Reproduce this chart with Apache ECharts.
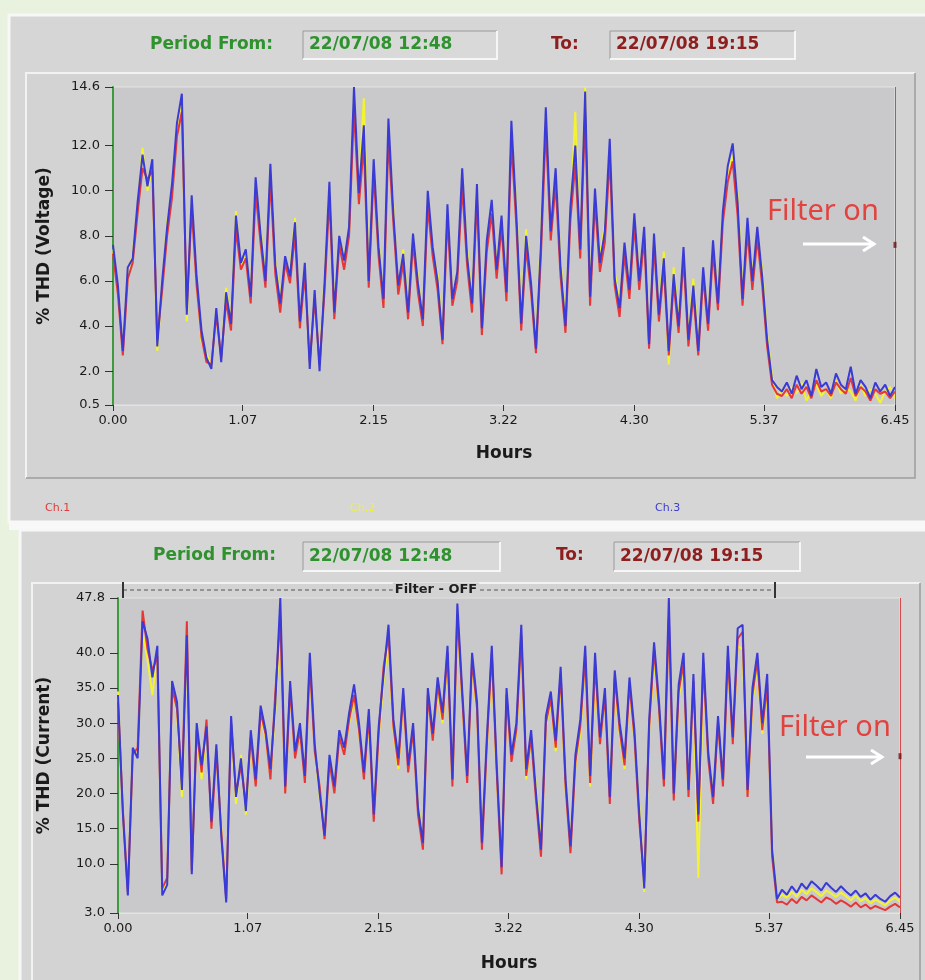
<!DOCTYPE html>
<html>
<head>
<meta charset="utf-8">
<title>THD Voltage / Current</title>
<script src="https://cdn.jsdelivr.net/npm/echarts@6/dist/echarts.min.js"></script>
<style>
    html, body { margin: 0; padding: 0; background: #e9f1df; }
    #chart { width: 925px; height: 980px; }
</style>
</head>
<body>
<div id="chart"></div>
<script>
// tick labels
const HOUR_TICKS = [0, 1.07, 2.15, 3.22, 4.30, 5.37, 6.45];
const VOLT_TICKS = [0.5, 2, 4, 6, 8, 10, 12, 14.6];
const CURR_TICKS = [3, 10, 15, 20, 25, 30, 35, 40, 47.8];
const HOURS_MAX = 6.45;
const SAMPLES = 160;

const PERIOD_FROM = '22/07/08 12:48';
const PERIOD_TO = '22/07/08 19:15';

// % THD (Voltage), one value per sample
const voltCh3 = [
    7.6, 5.8, 2.9, 6.6, 7.0, 9.5, 11.6, 10.2, 11.4, 3.1,
    6.0, 8.4, 10.3, 13.0, 14.3, 4.5, 9.8, 6.2, 3.8, 2.6,
    2.1, 4.8, 2.4, 5.5, 4.1, 8.9, 6.8, 7.4, 5.3, 10.6,
    8.1, 6.0, 11.2, 6.7, 5.0, 7.1, 6.2, 8.6, 4.2, 6.8,
    2.1, 5.6, 2.0, 5.9, 10.4, 4.6, 8.0, 6.9, 8.4, 14.6,
    9.9, 12.9, 6.0, 11.4, 7.5, 5.2, 13.2, 9.0, 5.8, 7.2,
    4.6, 8.1, 5.9, 4.3, 10.0, 7.5, 6.0, 3.4, 9.4, 5.2,
    6.4, 11.0, 7.1, 5.0, 10.3, 3.9, 7.8, 9.6, 6.5, 8.9,
    5.5, 13.1, 9.0, 4.1, 8.0, 5.9, 3.0, 7.6, 13.7, 8.2,
    11.0, 6.6, 4.0, 9.3, 12.0, 7.4, 14.4, 5.3, 10.1, 6.8,
    8.2, 12.3, 6.1, 4.8, 7.7, 5.6, 9.0, 6.0, 8.4, 3.2,
    8.1, 4.5, 7.0, 2.9, 6.3, 4.0, 7.5, 3.4, 5.8, 2.9,
    6.6, 4.1, 7.8, 5.0, 9.1, 11.1, 12.1, 9.5, 5.2, 8.8,
    6.0, 8.4, 6.2, 3.4, 1.6,
    1.3, 1.1, 1.5, 1.0, 1.8, 1.2, 1.6, 0.9, 2.1, 1.3,
    1.5, 1.0, 1.9, 1.4, 1.2, 2.2, 1.0, 1.6, 1.3, 0.8,
    1.5, 1.1, 1.4, 0.9, 1.3
];
const voltCh1 = [
    7.2, 5.4, 2.7, 6.1, 6.8, 9.0, 11.0, 10.5, 10.9, 3.4,
    5.6, 8.0, 9.7, 12.4, 13.5, 4.8, 9.2, 5.8, 3.5, 2.4,
    2.3, 4.5, 2.6, 5.1, 3.8, 8.3, 6.5, 7.0, 5.0, 9.9,
    7.7, 5.7, 10.5, 6.3, 4.6, 6.8, 5.9, 8.1, 3.9, 6.3,
    2.4, 5.2, 2.3, 5.5, 9.7, 4.3, 7.6, 6.5, 8.0, 13.6,
    9.4, 12.0, 5.7, 10.8, 7.1, 4.8, 12.3, 8.6, 5.4, 6.8,
    4.3, 7.7, 5.5, 4.0, 9.3, 7.1, 5.6, 3.2, 8.8, 4.9,
    6.0, 10.2, 6.7, 4.6, 9.7, 3.6, 7.3, 9.0, 6.1, 8.4,
    5.1, 12.2, 8.5, 3.8, 7.5, 5.5, 2.8, 7.1, 12.8, 7.8,
    10.3, 6.2, 3.7, 8.7, 11.2, 7.0, 13.4, 4.9, 9.5, 6.4,
    7.7, 11.5, 5.8, 4.4, 7.2, 5.2, 8.5, 5.6, 7.9, 3.0,
    7.6, 4.2, 6.6, 2.7, 5.9, 3.7, 7.0, 3.1, 5.4, 2.7,
    6.2, 3.8, 7.3, 4.7, 8.6, 10.4, 11.3, 8.9, 4.9, 8.2,
    5.6, 7.9, 5.8, 3.1, 1.4,
    1.0, 0.9, 1.2, 0.8, 1.4, 1.0, 1.3, 0.8, 1.6, 1.1,
    1.2, 0.9, 1.5, 1.2, 1.0, 1.7, 0.9, 1.3, 1.1, 0.7,
    1.2, 1.0, 1.1, 0.8, 1.1
];
const voltCh2 = [
    7.4, 5.5, 3.0, 6.3, 7.2, 9.3, 11.9, 10.0, 11.0, 2.9,
    5.8, 8.6, 10.0, 12.8, 13.9, 4.2, 9.5, 6.0, 3.3, 2.8,
    2.2, 4.6, 2.5, 5.7, 4.3, 9.1, 6.6, 7.2, 5.6, 10.2,
    8.3, 6.2, 10.9, 6.9, 5.3, 6.9, 6.4, 8.8, 4.0, 6.6,
    2.3, 5.4, 2.2, 6.1, 10.1, 4.9, 7.8, 7.1, 8.2, 14.2,
    10.2, 14.1, 6.3, 11.0, 7.8, 5.0, 12.6, 9.3, 5.5, 7.4,
    4.8, 7.9, 6.2, 4.1, 9.7, 7.3, 6.3, 3.6, 9.0, 5.4,
    6.2, 10.7, 7.4, 5.2, 10.0, 4.2, 7.5, 9.3, 6.8, 8.6,
    5.8, 12.8, 9.3, 4.4, 8.3, 5.6, 3.3, 7.9, 13.3, 8.5,
    10.7, 6.9, 4.3, 9.0, 13.5, 7.2, 14.6, 5.6, 9.8, 7.1,
    8.5, 11.9, 6.4, 5.1, 7.4, 5.9, 8.7, 6.3, 8.1, 3.5,
    7.8, 4.8, 7.3, 2.3, 6.6, 4.3, 7.2, 3.7, 6.1, 3.2,
    6.3, 4.4, 7.5, 5.3, 8.8, 10.8, 11.6, 9.8, 5.5, 8.5,
    6.3, 8.1, 6.5, 3.6, 1.8,
    0.8, 1.2, 0.9, 1.3, 1.0, 1.5, 0.7, 1.1, 1.4, 0.9,
    1.2, 0.8, 1.6, 1.0, 1.3, 1.1, 0.7, 1.4, 0.9, 1.2,
    1.0, 0.6, 1.1, 1.3, 0.8
];

// % THD (Current)
const currCh3 = [
    34.0, 17.0, 5.5, 26.5, 25.0, 44.5, 42.0, 36.5, 41.0, 5.5,
    7.0, 36.0, 33.0, 20.5, 42.5, 8.5, 30.0, 24.0, 29.5, 16.0,
    27.0, 14.0, 4.5, 31.0, 19.5, 25.0, 17.5, 29.0, 22.0, 32.5,
    29.0, 23.5, 33.0, 47.8, 21.0, 36.0, 26.0, 30.0, 22.5, 40.0,
    27.0, 20.0, 14.0, 25.5, 21.0, 29.0, 26.5, 31.5, 35.5, 30.0,
    23.0, 32.0, 17.0, 29.5, 37.0, 44.0, 30.5, 25.0, 35.0, 24.0,
    30.0, 18.0, 13.0, 35.0, 28.5, 36.5, 31.5, 41.0, 22.0, 47.0,
    34.5, 22.5, 40.0, 33.0, 13.0, 28.0, 41.0, 24.0, 9.5, 35.0,
    25.5, 30.0, 44.0, 23.5, 29.0, 20.0, 12.0, 31.0, 34.5, 27.5,
    38.0, 22.0, 12.5, 25.5, 30.5, 41.0, 22.5, 40.0, 28.0, 35.0,
    19.5, 37.5, 30.0, 25.0, 36.5, 29.0, 17.0, 6.5, 30.5, 41.5,
    33.0, 22.0, 47.8, 20.0, 35.5, 40.0, 20.5, 37.0, 17.0, 40.0,
    26.0, 19.5, 31.0, 22.0, 41.0, 28.0, 43.5, 44.0, 20.5, 35.0,
    40.0, 30.0, 37.0, 12.0, 5.0,
    6.3, 5.6, 6.8, 5.9, 7.2, 6.4, 7.5, 6.9, 6.2, 7.3,
    6.6, 6.0, 6.8, 6.1, 5.5, 6.2, 5.3, 5.8, 4.9, 5.6,
    5.0, 4.6, 5.4, 5.9, 5.2
];
const currCh1 = [
    33.0, 17.5, 6.0, 25.5, 26.5, 46.0, 40.5, 37.5, 39.5, 6.5,
    8.0, 35.0, 32.0, 21.5, 44.5, 9.0, 29.0, 23.0, 30.5, 15.0,
    26.0, 14.5, 5.0, 30.0, 20.0, 24.0, 18.5, 28.0, 21.0, 31.5,
    28.5, 22.0, 34.5, 45.0, 20.0, 35.0, 25.0, 29.0, 21.5, 38.5,
    26.0, 21.0, 13.5, 24.5, 20.0, 28.0, 25.5, 30.5, 34.0, 29.0,
    22.0, 31.0, 16.0, 28.5, 38.0, 42.5, 29.5, 24.0, 34.0, 23.0,
    29.0, 17.0, 12.0, 34.0, 27.5, 35.5, 30.5, 40.0, 21.0, 45.5,
    33.5, 21.5, 39.0, 32.0, 12.0, 27.0, 40.0, 23.0, 8.5, 34.0,
    24.5, 29.0, 42.5, 22.5, 28.0, 19.0, 11.0, 30.0, 33.5, 26.5,
    37.0, 21.0, 11.5, 24.5, 29.5, 39.5, 21.5, 38.5, 27.0, 34.0,
    18.5, 36.5, 29.0, 24.0, 35.5, 28.0, 16.0, 7.5, 29.5, 40.5,
    32.0, 21.0, 45.0, 19.0, 34.5, 38.5, 19.5, 36.0, 16.0, 38.5,
    25.0, 18.5, 30.0, 21.0, 39.5, 27.0, 42.0, 43.0, 19.5, 34.0,
    39.0, 29.0, 35.5, 11.0, 4.5,
    4.6, 4.2, 5.0, 4.4, 5.3, 4.8, 5.5, 5.0, 4.5, 5.2,
    4.9, 4.3, 4.8, 4.4, 3.9, 4.5, 3.8, 4.2, 3.6, 4.0,
    3.7, 3.4, 3.9, 4.3, 3.8
];
const currCh2 = [
    34.5, 16.5, 6.5, 26.0, 25.5, 43.0, 39.0, 34.0, 40.0, 6.0,
    7.5, 35.5, 31.5, 19.5, 41.5, 9.5, 28.5, 22.0, 29.0, 17.0,
    25.5, 15.0, 5.5, 29.5, 18.5, 25.5, 17.0, 27.5, 21.5, 31.0,
    28.0, 22.5, 32.0, 44.0, 20.5, 34.5, 25.5, 28.5, 23.0, 37.5,
    26.5, 19.5, 14.5, 24.0, 21.5, 27.5, 26.0, 30.0, 33.5, 28.5,
    22.5, 30.0, 17.5, 28.0, 36.0, 41.5, 29.0, 23.5, 33.5, 24.5,
    28.5, 18.5, 13.5, 33.5, 28.0, 34.5, 30.0, 39.0, 21.5, 44.5,
    33.0, 23.0, 38.0, 31.5, 14.0, 26.5, 39.0, 22.5, 10.5, 33.5,
    25.0, 28.5, 41.5, 22.0, 27.5, 21.0, 13.0, 29.5, 33.0, 26.0,
    36.0, 20.5, 13.5, 24.0, 28.5, 39.0, 21.0, 37.0, 27.5, 33.5,
    20.0, 35.5, 28.5, 23.5, 35.0, 27.5, 18.0, 6.0, 29.0, 39.0,
    31.5, 22.5, 44.0, 20.5, 33.5, 38.0, 20.0, 35.0, 8.0, 37.5,
    25.5, 20.0, 29.5, 22.5, 38.5, 27.5, 41.0, 40.5, 20.0, 33.0,
    38.0, 28.5, 34.5, 12.5, 5.0,
    5.6, 5.2, 6.0, 5.3, 6.3, 5.7, 6.5, 6.0, 5.4, 6.2,
    5.8, 5.3, 5.9, 5.4, 4.8, 5.5, 4.7, 5.1, 4.4, 4.9,
    4.5, 4.1, 4.8, 5.2, 4.6
];

// marker where the filter switches on (hours, value)
const filterMarkVolt = [6.45, 7.6];
const filterMarkCurr = [6.45, 25.3];

const RED = '#e63636';
const YELLOW = '#f3f32e';
const BLUE = '#3a3ad6';
const GREEN_TXT = '#2f922f';
const RED_TXT = '#8e1f1f';
const FONT = '"DejaVu Sans", "Liberation Sans", Arial, sans-serif';

var chart = echarts.init(document.getElementById('chart'), null, {renderer: 'canvas'});

function toPairs(values) {
    var step = HOURS_MAX / (SAMPLES - 1);
    return values.map(function (v, i) {
        return [i * step, v];
    });
}

function xAxisFor(gridIndex, nameGap, labelMargin) {
    return {
        type: 'value',
        gridIndex: gridIndex,
        min: 0,
        max: HOURS_MAX,
        name: 'Hours',
        nameLocation: 'middle',
        nameGap: nameGap,
        nameTextStyle: {fontFamily: FONT, fontWeight: 'bold', fontSize: 17, color: '#1a1a1a'},
        axisLine: {show: true, onZero: false, lineStyle: {color: '#e2e2e2', width: 1}},
        axisTick: {show: true, customValues: HOUR_TICKS, length: 6, lineStyle: {color: '#333'}},
        axisLabel: {
            customValues: HOUR_TICKS,
            margin: labelMargin,
            fontFamily: FONT,
            fontSize: 13,
            color: '#1a1a1a',
            formatter: function (v) { return v.toFixed(2); }
        },
        splitLine: {show: false}
    };
}

function yAxisFor(gridIndex, name, ticks, nameGap) {
    return {
        type: 'value',
        gridIndex: gridIndex,
        min: ticks[0],
        max: ticks[ticks.length - 1],
        name: name,
        nameLocation: 'middle',
        nameGap: nameGap,
        nameTextStyle: {fontFamily: FONT, fontWeight: 'bold', fontSize: 17, color: '#1a1a1a'},
        axisLine: {show: true, onZero: false, lineStyle: {color: '#3f9a3f', width: 2}},
        axisTick: {show: true, customValues: ticks, length: 8, lineStyle: {color: '#333'}},
        axisLabel: {
            customValues: ticks,
            margin: 13,
            fontFamily: FONT,
            fontSize: 13,
            color: '#1a1a1a',
            formatter: function (v) { return v.toFixed(1); }
        },
        splitLine: {show: false}
    };
}

function traceSeries(name, values, color, axisIndex, width, extra) {
    var s = {
        name: name,
        type: 'line',
        xAxisIndex: axisIndex,
        yAxisIndex: axisIndex,
        data: toPairs(values),
        showSymbol: false,
        symbol: 'none',
        lineStyle: {color: color, width: width},
        itemStyle: {color: color},
        silent: true
    };
    return Object.assign(s, extra || {});
}

function edgeLine() {
    return {
        markLine: {
            silent: true,
            symbol: 'none',
            label: {show: false},
            lineStyle: {color: '#d44a4a', type: 'solid', width: 1},
            data: [{xAxis: HOURS_MAX}]
        }
    };
}

function markerSeries(point, axisIndex) {
    return {
        type: 'scatter',
        xAxisIndex: axisIndex,
        yAxisIndex: axisIndex,
        data: [point],
        symbol: 'rect',
        symbolSize: [3, 6],
        itemStyle: {color: '#6b1414'},
        silent: true,
        z: 5
    };
}

// raised 3d frame
function frame(x, y, w, h, fill, light, dark) {
    return {
        type: 'group',
        z: -10,
        children: [
            {type: 'rect', shape: {x: x, y: y, width: w, height: h}, style: {fill: fill}, z: -10},
            {type: 'polyline', shape: {points: [[x, y + h], [x, y], [x + w, y]]}, style: {stroke: light, lineWidth: 2, fill: null}, z: -9},
            {type: 'polyline', shape: {points: [[x + w, y], [x + w, y + h], [x, y + h]]}, style: {stroke: dark, lineWidth: 1.5, fill: null}, z: -9}
        ]
    };
}

function label(text, x, y, color, size, weight, extra) {
    return Object.assign({
        type: 'text',
        x: x,
        y: y,
        z: 50,
        style: {
            text: text,
            fill: color,
            font: (weight || 'normal') + ' ' + size + 'px ' + FONT,
            verticalAlign: 'middle'
        }
    }, extra || {});
}

function dateBox(x, y, w, h, text, color) {
    return {
        type: 'group',
        children: [
            {type: 'rect', shape: {x: x, y: y, width: w, height: h}, style: {fill: '#d9d9d9'}, z: -5},
            {type: 'polyline', shape: {points: [[x, y + h], [x, y], [x + w, y]]}, style: {stroke: '#9a9a9a', lineWidth: 1, fill: null}, z: -4},
            {type: 'polyline', shape: {points: [[x + w, y], [x + w, y + h], [x, y + h]]}, style: {stroke: '#f6f6f6', lineWidth: 2, fill: null}, z: -4},
            label(text, x + 6, y + h / 2, color, 17, 'bold')
        ]
    };
}

function arrow(x1, x2, y) {
    return {
        type: 'group',
        children: [
            {type: 'line', shape: {x1: x1, y1: y, x2: x2, y2: y}, style: {stroke: '#ffffff', lineWidth: 3}, z: 60},
            {type: 'polyline', shape: {points: [[x2 - 11, y - 7], [x2, y], [x2 - 11, y + 7]]}, style: {stroke: '#ffffff', lineWidth: 3, fill: null}, z: 60}
        ]
    };
}

function filterOnText(x, y) {
    return label('Filter on', x, y, '#e2433f', 29, 'normal', {
        style: {text: 'Filter on', fill: '#e2433f', font: '29px "Noto Sans", "Open Sans", sans-serif', verticalAlign: 'middle'}
    });
}

var graphics = [
    // top panel
    {type: 'rect', shape: {x: 9, y: 15, width: 918, height: 507}, style: {fill: '#d6d6d6', stroke: '#f7f7f7', lineWidth: 3}, z: -20},
    frame(26, 73, 889, 405, '#d3d3d3', '#f2f2f2', '#9d9d9d'),
    // bottom panel
    {type: 'rect', shape: {x: 9, y: 521, width: 918, height: 9}, style: {fill: '#f8f8f8'}, z: -20},
    {type: 'rect', shape: {x: 20, y: 530, width: 910, height: 460}, style: {fill: '#d6d6d6', stroke: '#f7f7f7', lineWidth: 3}, z: -20},
    frame(32, 583, 888, 410, '#d3d3d3', '#f2f2f2', '#9d9d9d'),

    // headers
    label('Period From:', 150, 45, GREEN_TXT, 17, 'bold'),
    dateBox(303, 31, 194, 28, PERIOD_FROM, GREEN_TXT),
    label('To:', 551, 45, RED_TXT, 17, 'bold'),
    dateBox(610, 31, 185, 28, PERIOD_TO, RED_TXT),

    label('Period From:', 153, 556, GREEN_TXT, 17, 'bold'),
    dateBox(303, 542, 197, 29, PERIOD_FROM, GREEN_TXT),
    label('To:', 556, 556, RED_TXT, 17, 'bold'),
    dateBox(614, 542, 186, 29, PERIOD_TO, RED_TXT),

    // channel names
    label('Ch.1', 45, 508, '#e03a3a', 11),
    label('Ch.2', 350, 508, '#f0f03c', 11),
    label('Ch.3', 655, 508, '#3c3cd0', 11),

    // filter-off band over the current chart
    {type: 'line', shape: {x1: 123, y1: 590, x2: 775, y2: 590}, style: {stroke: '#555', lineWidth: 1.2, lineDash: [4, 3]}, z: 40},
    {type: 'line', shape: {x1: 123, y1: 582, x2: 123, y2: 598}, style: {stroke: '#333', lineWidth: 2}, z: 40},
    {type: 'line', shape: {x1: 775, y1: 582, x2: 775, y2: 598}, style: {stroke: '#333', lineWidth: 2}, z: 40},
    label('Filter - OFF', 436, 590, '#1e1e1e', 13, 'bold', {
        style: {
            text: 'Filter - OFF', fill: '#1e1e1e', font: 'bold 13px ' + FONT,
            align: 'center', verticalAlign: 'middle', backgroundColor: '#d3d3d3', padding: [1, 2]
        }
    }),

    // annotations
    filterOnText(767, 212),
    arrow(803, 874, 244),
    filterOnText(779, 728),
    arrow(806, 882, 757)
];

var option = {
    animation: false,
    backgroundColor: '#e9f1df',
    graphic: {elements: graphics},
    grid: [
        {left: 113, top: 87, width: 782, height: 318, show: true, backgroundColor: '#c9c9cb', borderColor: '#e4e4e4', borderWidth: 1, z: -1},
        {left: 118, top: 598, width: 782, height: 315, show: true, backgroundColor: '#c9c9cb', borderColor: '#e4e4e4', borderWidth: 1, z: -1}
    ],
    xAxis: [xAxisFor(0, 40, 9), xAxisFor(1, 42, 9)],
    yAxis: [
        yAxisFor(0, '% THD (Voltage)', VOLT_TICKS, 60),
        yAxisFor(1, '% THD (Current)', CURR_TICKS, 65)
    ],
    series: [
        traceSeries('Ch.2', voltCh2, YELLOW, 0, 2),
        traceSeries('Ch.1', voltCh1, RED, 0, 2),
        traceSeries('Ch.3', voltCh3, BLUE, 0, 2, edgeLine()),
        markerSeries(filterMarkVolt, 0),

        traceSeries('Ch.2', currCh2, YELLOW, 1, 2),
        traceSeries('Ch.1', currCh1, RED, 1, 2),
        traceSeries('Ch.3', currCh3, BLUE, 1, 2, edgeLine()),
        markerSeries(filterMarkCurr, 1)
    ]
};

chart.setOption(option);
</script>
</body>
</html>
